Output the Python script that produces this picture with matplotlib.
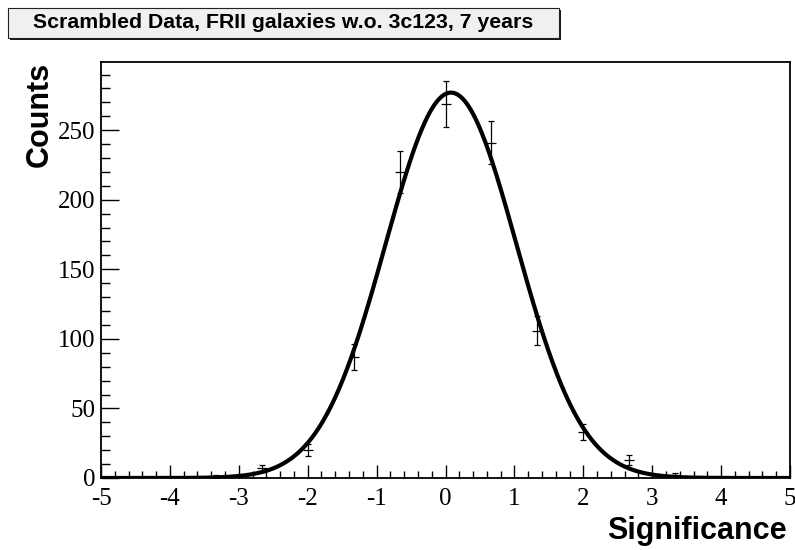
import numpy as np
import matplotlib
matplotlib.use("Agg")
import matplotlib.pyplot as plt
from matplotlib.patches import Rectangle
from matplotlib.ticker import MultipleLocator

plt.rcParams["axes.unicode_minus"] = False

# Data
bin_centers = [-3.333, -2.667, -2.0, -1.333, -0.667, 0.0, 0.667, 1.333, 2.0, 2.667, 3.333]
counts = [1, 7, 20, 87, 220, 269, 241, 106, 33, 13, 2]
# Gaussian fit parameters (as drawn)
fit_amp = 277.0
fit_mean = 0.08
fit_sigma = 0.95

title_text = "Scrambled Data, FRII galaxies w.o. 3c123, 7 years"
xlabel = "Significance"
ylabel = "Counts"

W, H = 795, 550
fig = plt.figure(figsize=(W / 100, H / 100), dpi=100)
ax = fig.add_axes([101 / W, 1 - 478 / H, (790 - 101) / W, (478 - 62) / H])

serif = "Liberation Serif"
sans = "Liberation Sans"

x = np.array(bin_centers)
y = np.array(counts, dtype=float)
err = np.sqrt(y)
ax.errorbar(x, y, yerr=err, fmt="none", ecolor="black", elinewidth=0.9,
            capsize=2.0, capthick=0.9, zorder=3)
ax.plot(x, y, linestyle="none", marker="_", markersize=7, markeredgewidth=0.9,
        color="black", zorder=3)

xs = np.linspace(-5, 5, 600)
ax.plot(xs, fit_amp * np.exp(-0.5 * ((xs - fit_mean) / fit_sigma) ** 2),
        color="black", linewidth=3.0, zorder=4, solid_capstyle="butt")

ax.set_xlim(-5, 5)
ax.set_ylim(0, 299)
ax.xaxis.set_major_locator(MultipleLocator(1))
ax.xaxis.set_minor_locator(MultipleLocator(0.2))
ax.yaxis.set_major_locator(MultipleLocator(50))
ax.yaxis.set_minor_locator(MultipleLocator(10))
ax.tick_params(axis="x", which="major", direction="in", length=9.5, width=1.0, pad=7)
ax.tick_params(axis="x", which="minor", direction="in", length=5, width=1.0)
ax.tick_params(axis="y", which="major", direction="in", length=13, width=1.0, pad=4)
ax.tick_params(axis="y", which="minor", direction="in", length=6.5, width=1.0)
for lab in ax.get_xticklabels() + ax.get_yticklabels():
    lab.set_fontfamily(serif)
    lab.set_fontsize(18)
for s in ax.spines.values():
    s.set_linewidth(1.3)

fig.text(787 / W, 1 - 539 / H, xlabel, ha="right", va="baseline",
         fontfamily=sans, fontweight="bold", fontsize=22)
fig.text(40 / W, 1 - 62 / H, ylabel, ha="center", va="top", rotation=90,
         fontfamily=sans, fontweight="bold", fontsize=22)

# Title box with shadow
bx0, by0, bx1, by1 = 8, 8, 559, 38
fig.patches.append(Rectangle(((bx0 + 2) / W, 1 - (by1 + 2) / H), (bx1 - bx0) / W, (by1 - by0) / H,
                             transform=fig.transFigure, facecolor="#1a1a1a", edgecolor="none", zorder=1))
fig.patches.append(Rectangle((bx0 / W, 1 - by1 / H), (bx1 - bx0) / W, (by1 - by0) / H,
                             transform=fig.transFigure, facecolor="#f0f0f0", edgecolor="#222222",
                             linewidth=0.8, zorder=2))
fig.text((bx0 + bx1) / 2 / W, 1 - (by0 + by1) / 2 / H, title_text, ha="center", va="center",
         fontfamily=sans, fontweight="bold", fontsize=15.3, zorder=3)

fig.savefig("out.png", dpi=100)
